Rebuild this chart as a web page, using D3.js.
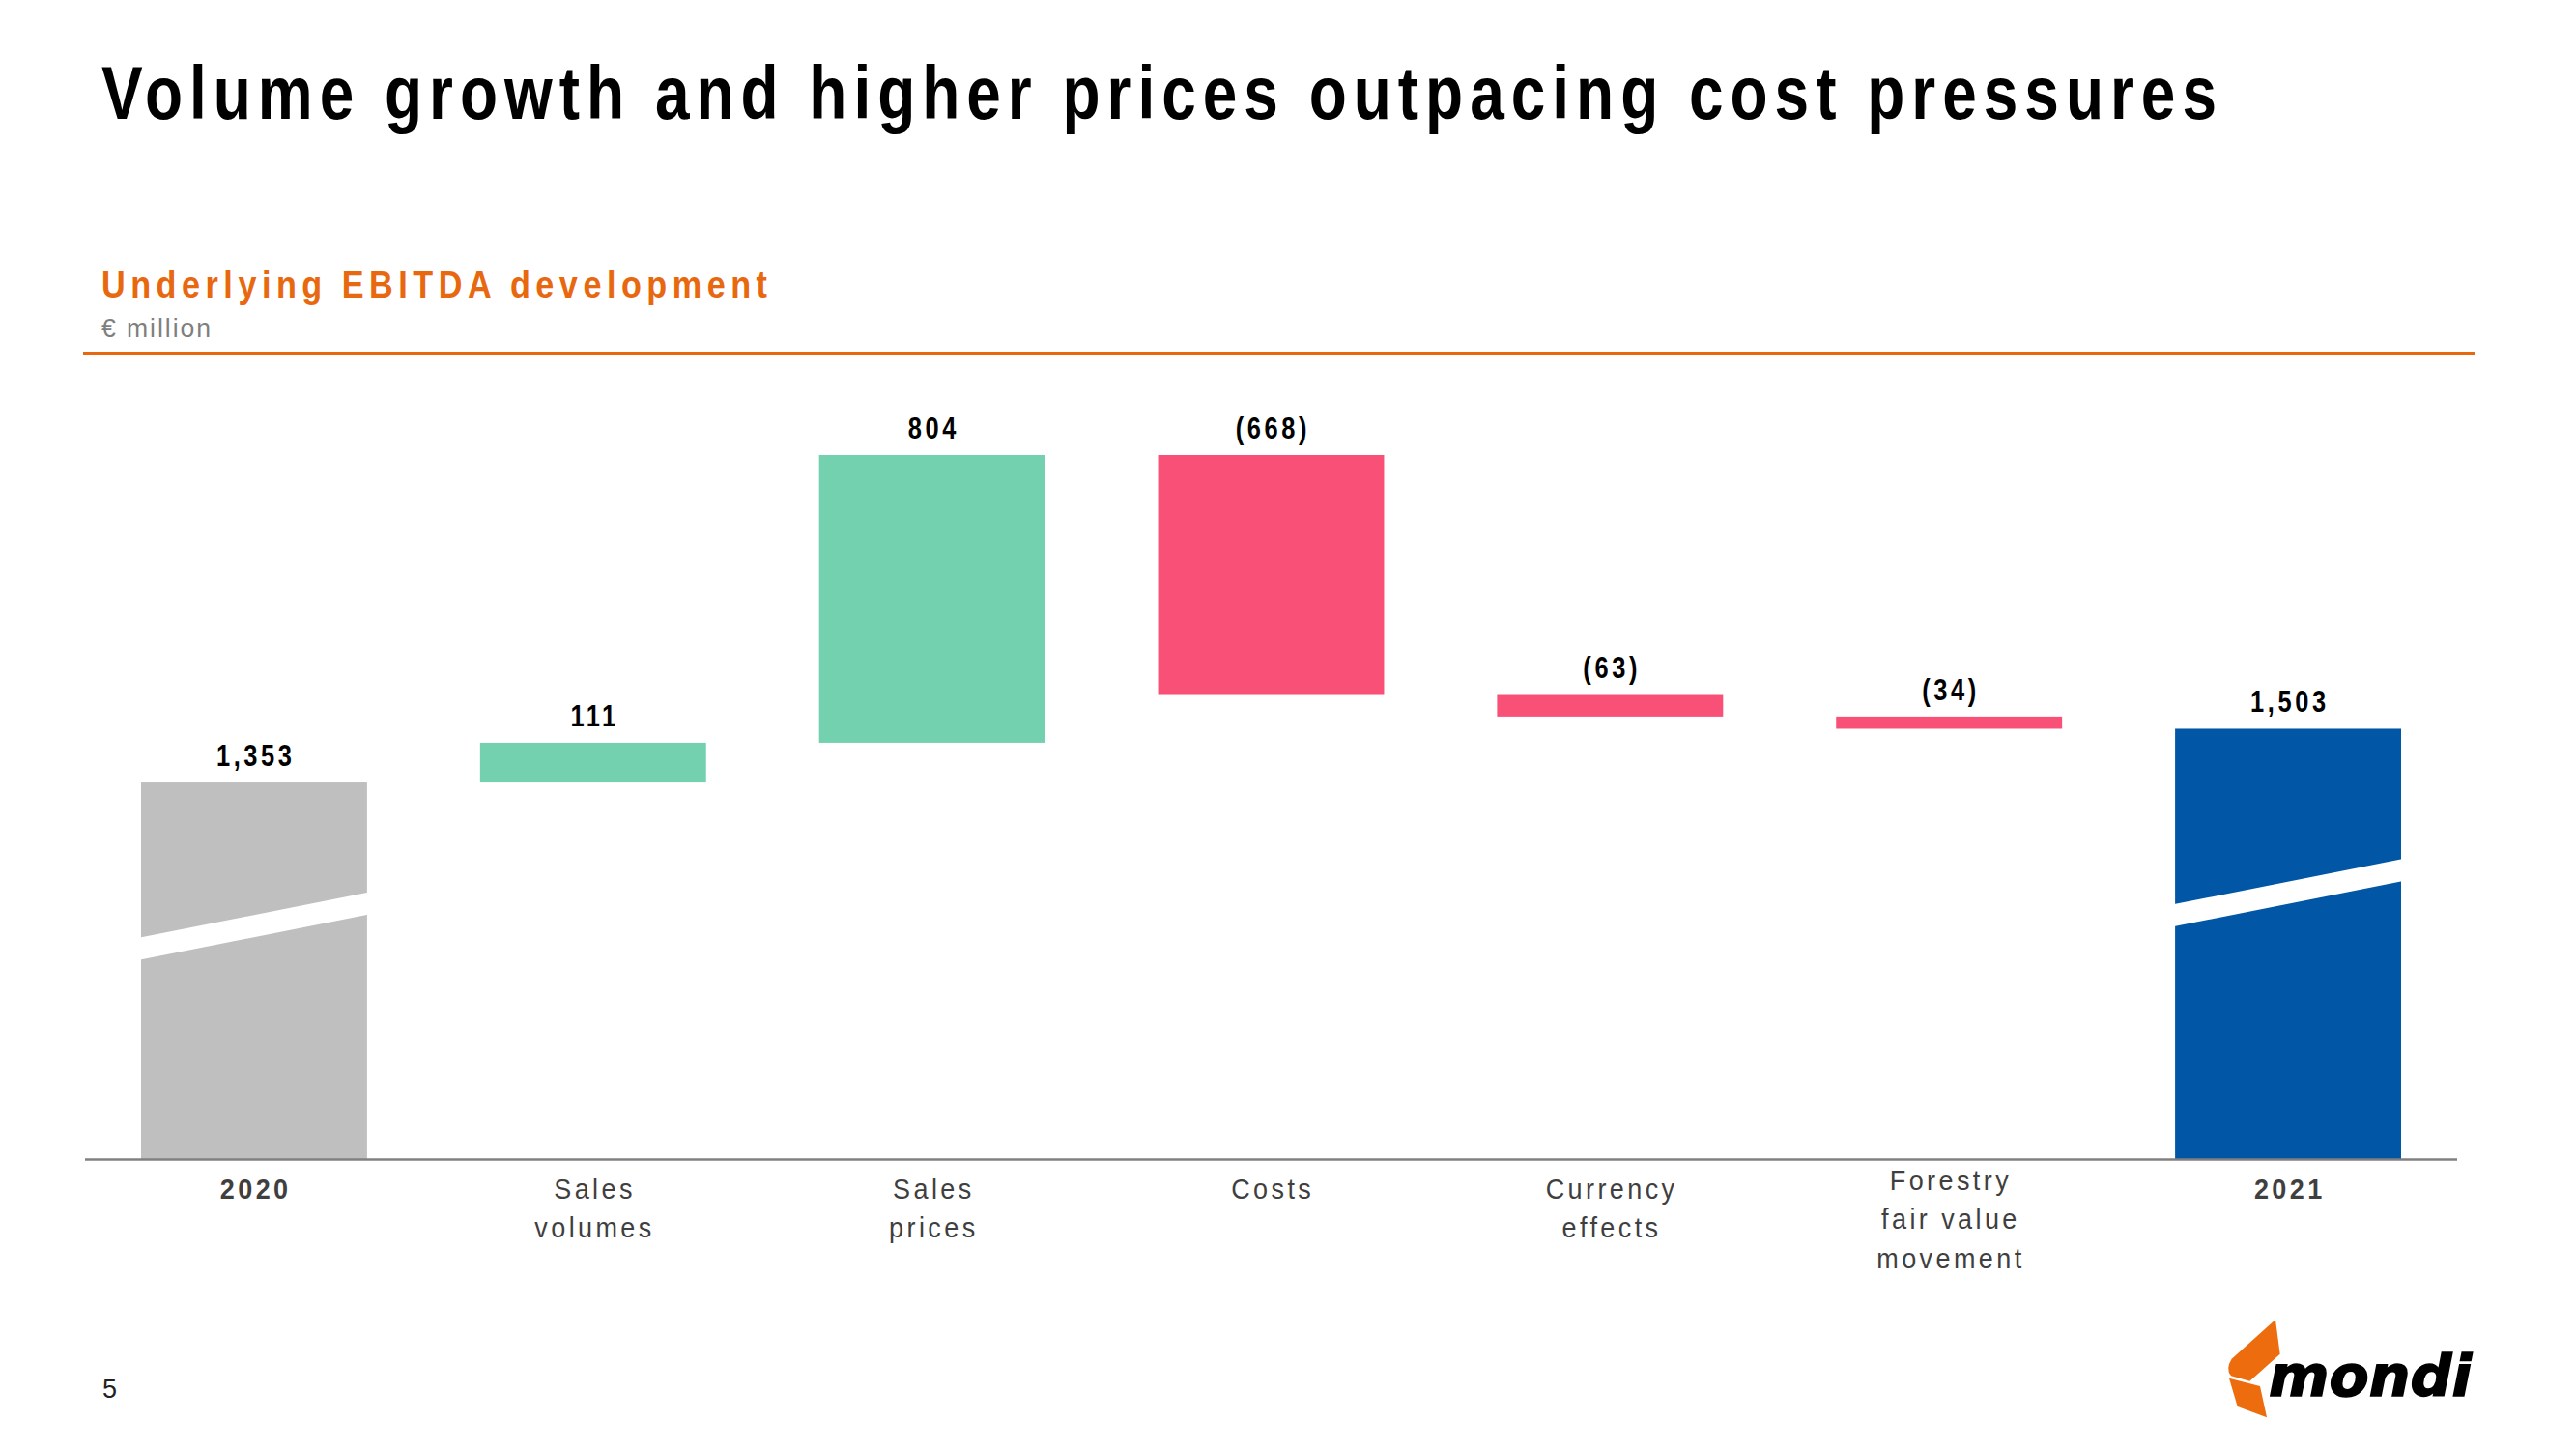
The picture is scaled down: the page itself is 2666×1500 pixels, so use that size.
<!DOCTYPE html>
<html>
<head>
<meta charset="utf-8">
<script src="https://cdn.jsdelivr.net/npm/d3@7"></script>
<style>
  html, body { margin: 0; padding: 0; background: #ffffff; }
  svg { display: block; }
</style>
</head>
<body>
<svg id="chart" width="2666" height="1500"></svg>
<script>
// ---------------- DATA ----------------
const categories = ["2020", "Sales volumes", "Sales prices", "Costs", "Currency effects", "Forestry fair value movement", "2021"];
const categoryLines = [["2020"], ["Sales", "volumes"], ["Sales", "prices"], ["Costs"], ["Currency", "effects"], ["Forestry", "fair value", "movement"], ["2021"]];
const values = [1353, 111, 804, -668, -63, -34, 1503];
const kinds = ["total", "delta", "delta", "delta", "delta", "delta", "total"];
const valueLabels = ["1,353", "111", "804", "(668)", "(63)", "(34)", "1,503"];
const axisFloor = 298; // value represented at the (broken) baseline

const title = "Volume growth and higher prices outpacing cost pressures";
const subtitle = "Underlying EBITDA development";
const unitLabel = "€ million";
const pageNumber = "5";

// ---------------- STYLE ----------------
const FONT = "'Liberation Sans', Arial, Helvetica, sans-serif";
const SX = 0.82; // horizontal condensing of the slide font
const colors = { total0: "#BFBFBF", total1: "#0156A6", up: "#74D1B0", down: "#F95077" };
const ORANGE = "#E8680F";

const svg = d3.select("#chart");
svg.append("rect").attr("width", 2666).attr("height", 1500).attr("fill", "#ffffff");

// condensed text: group scaled horizontally, text fitted to a target width
function condensedText(parent, px, py, str, opts, target) {
  const sx = opts.sx || SX;
  const gg = parent.append("g").attr("transform", `translate(${px},${py}) scale(${sx},1)`);
  const t = gg.append("text")
    .attr("x", 0).attr("y", 0)
    .attr("font-family", FONT)
    .attr("font-weight", opts.weight || "normal")
    .attr("font-size", opts.size)
    .attr("fill", opts.fill)
    .text(str);
  if (target) {
    const local = target / sx;
    const w = t.node().getComputedTextLength();
    t.attr("textLength", local).attr("lengthAdjust", w <= local ? "spacing" : "spacingAndGlyphs");
  }
  return t;
}

// ---------------- waterfall layout ----------------
let running = 0;
const rows = values.map((v, i) => {
  let start, end;
  if (kinds[i] === "total") { start = axisFloor; end = v; running = v; }
  else { start = running; end = running + v; running = end; }
  return { cat: categories[i], lines: categoryLines[i], value: v, kind: kinds[i], label: valueLabels[i], start, end, i };
});
const yMax = d3.max(rows, d => Math.max(d.start, d.end));

const x = d3.scaleBand().domain(categories).range([146, 2485]).paddingInner(1 / 3).paddingOuter(0);
const y = d3.scaleLinear().domain([axisFloor, yMax]).range([1201, 471]);

function barColor(d) {
  if (d.kind === "total") return d.i === 0 ? colors.total0 : colors.total1;
  return d.value >= 0 ? colors.up : colors.down;
}

// ---------------- titles ----------------
condensedText(svg, 105, 123, title, { weight: "bold", size: 78, fill: "#000" }, 2189);
condensedText(svg, 105, 308, subtitle, { weight: "bold", size: 38, fill: ORANGE, sx: 0.9 }, 689);
condensedText(svg, 105, 349, unitLabel, { size: 28, fill: "#7F7F7F", sx: 0.95 }, 113);

svg.append("rect")
  .attr("x", 86).attr("y", 364).attr("width", 2475).attr("height", 4)
  .attr("fill", ORANGE);

// ---------------- bars ----------------
const g = svg.append("g");

g.selectAll("rect.bar").data(rows).join("rect")
  .attr("class", "bar")
  .attr("x", d => x(d.cat))
  .attr("width", x.bandwidth())
  .attr("y", d => y(Math.max(d.start, d.end)))
  .attr("height", d => Math.abs(y(d.start) - y(d.end)))
  .attr("fill", barColor);

// axis-break bands on total bars
const totals = rows.filter(d => d.kind === "total");
g.selectAll("path.brk").data(totals).join("path")
  .attr("class", "brk")
  .attr("fill", "#ffffff")
  .attr("d", d => {
    const x0 = x(d.cat) - 1, x1 = x(d.cat) + x.bandwidth() + 1;
    const yb = y(d.start), yt = y(d.end);
    const yc = yb - 0.62 * (yb - yt);
    const rise = 0.1 * x.bandwidth();
    const half = 11.5;
    return `M${x0},${yc + rise - half} L${x1},${yc - rise - half} L${x1},${yc - rise + half} L${x0},${yc + rise + half} Z`;
  });

// baseline
svg.append("line")
  .attr("x1", 88).attr("x2", 2543)
  .attr("y1", 1200.5).attr("y2", 1200.5)
  .attr("stroke", "#808080").attr("stroke-width", 2.5);

// value labels (condensed, letter-spaced)
const VAL_LS = 4.4;
g.selectAll("g.val").data(rows).join("g")
  .attr("class", "val")
  .attr("transform", d => `translate(${x(d.cat) + x.bandwidth() / 2 + VAL_LS * SX / 2},${y(Math.max(d.start, d.end)) - 17}) scale(${SX},1)`)
  .append("text")
  .attr("text-anchor", "middle")
  .attr("font-family", FONT).attr("font-weight", "bold")
  .attr("font-size", 31)
  .attr("letter-spacing", VAL_LS)
  .attr("fill", "#000")
  .text(d => d.label);

// category labels (slightly condensed, letter-spaced)
const CAT_SX = 0.9, CAT_LS = 3.8;
const catG = g.selectAll("g.cat").data(rows).join("g")
  .attr("class", "cat")
  .attr("transform", d => `translate(${x(d.cat) + x.bandwidth() / 2 + CAT_LS * CAT_SX / 2},${d.lines.length > 2 ? 1232 : 1241}) scale(${CAT_SX},1)`)
  .append("text")
  .attr("text-anchor", "middle")
  .attr("font-family", FONT)
  .attr("font-weight", d => d.kind === "total" ? "bold" : "normal")
  .attr("font-size", 30)
  .attr("letter-spacing", CAT_LS)
  .attr("fill", "#3F3F3F");

catG.selectAll("tspan").data(d => d.lines).join("tspan")
  .attr("x", 0)
  .attr("dy", (l, i) => i === 0 ? 0 : 40.5)
  .text(l => l);

// ---------------- footer ----------------
svg.append("text")
  .attr("x", 106).attr("y", 1447)
  .attr("font-family", FONT).attr("font-size", 27)
  .attr("fill", "#222")
  .text(pageNumber);

// mondi logo (drawn)
const logo = svg.append("g").attr("transform", "translate(2295,1355) scale(0.3333)");
logo.append("path")
  .attr("fill", "#EC6C0E")
  .attr("d", "M180,33 L194,140 L100,224 L42,208 Q24,186 44,155 Z");
logo.append("path")
  .attr("fill", "#EC6C0E")
  .attr("d", "M36,215 L132,240 L153,337 L62,303 Z");
svg.append("text")
  .attr("x", 2348).attr("y", 1445)
  .attr("font-family", "'DejaVu Sans', sans-serif")
  .attr("font-weight", "bold").attr("font-style", "italic")
  .attr("font-size", 58)
  .attr("fill", "#000").attr("stroke", "#000").attr("stroke-width", 1.5)
  .attr("textLength", 210).attr("lengthAdjust", "spacingAndGlyphs")
  .text("mondi");
</script>
</body>
</html>
